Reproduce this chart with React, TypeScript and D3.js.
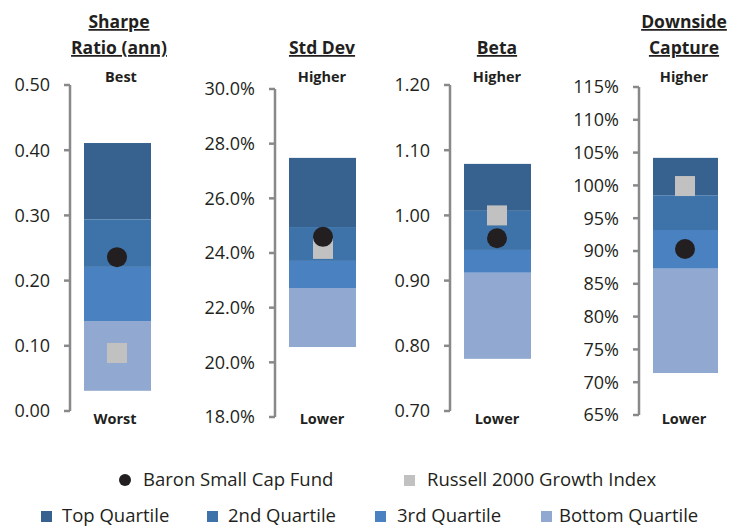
import * as d3 from 'd3';

// quartile breakpoints, top of Top Quartile down to bottom of Bottom Quartile
const panelTitles = [['Sharpe', 'Ratio (ann)'], ['Std Dev'], ['Beta'], ['Downside', 'Capture']];
const topLabels = ['Best', 'Higher', 'Higher', 'Higher'];
const bottomLabels = ['Worst', 'Lower', 'Lower', 'Lower'];
const sharpeBounds = [0.411, 0.294, 0.221, 0.138, 0.031];
const stdDevBounds = [27.48, 24.95, 23.71, 22.72, 20.56];
const betaBounds = [1.079, 1.007, 0.947, 0.912, 0.78];
const downsideBounds = [104.2, 98.5, 93.2, 87.3, 71.4];
const fundValues = [0.236, 24.59, 0.965, 90.3];
const indexValues = [0.089, 24.15, 1.0, 99.9];
const axisDomains: [number, number][] = [[0, 0.5], [18, 30], [0.7, 1.2], [65, 115]];
const tickSteps = [0.1, 2, 0.1, 5];
const tickFormats = [(v: number) => v.toFixed(2), (v: number) => v.toFixed(1) + '%', (v: number) => v.toFixed(2), (v: number) => Math.round(v) + '%'];
const quartileNames = ['Top Quartile', '2nd Quartile', '3rd Quartile', 'Bottom Quartile'];
const seriesNames = ['Baron Small Cap Fund', 'Russell 2000 Growth Index'];

const quartileColors = ['#37628f', '#3e73a9', '#4a81c1', '#91a9d0'];
const FUND = '#231f20';
const INDEX = '#c1c1c1';
const AXIS = '#88898b';
const TEXT = '#231f20';
const FONT = '"Open Sans", sans-serif';

const bounds = [sharpeBounds, stdDevBounds, betaBounds, downsideBounds];

// layout per panel: axis x, pixel range, bar left/right
const layout = [
  { ax: 70, y0: 411, y1: 85, bx0: 84, bx1: 151, cx: 119, mark: 117 },
  { ax: 275, y0: 417, y1: 89, bx0: 289, bx1: 356, cx: 322, mark: 323 },
  { ax: 450, y0: 411, y1: 85, bx0: 464, bx1: 531, cx: 497, mark: 497 },
  { ax: 639, y0: 415, y1: 87, bx0: 653, bx1: 718, cx: 684, mark: 685 },
];

function Panel({ i }: { i: number }) {
  const L = layout[i];
  const [lo, hi] = axisDomains[i];
  const y = d3.scaleLinear().domain([lo, hi]).range([L.y0, L.y1]);
  const ticks = d3.range(lo, hi + tickSteps[i] / 2, tickSteps[i]);
  const b = bounds[i];
  const title = panelTitles[i];
  return (
    <g>
      {title.map((t, k) => (
        <text key={t} x={L.cx} y={title.length === 2 ? 28 + k * 26 : 54} textAnchor="middle"
          fontSize={17.5} fontWeight={700} fill={TEXT} textDecoration="underline">{t}</text>
      ))}
      <text x={L.cx + (i === 0 ? 2 : 0)} y={82} textAnchor="middle" fontSize={14.5} fontWeight={700} fill={TEXT}>{topLabels[i]}</text>
      <text x={L.cx - (i === 0 ? 4 : 0)} y={424} textAnchor="middle" fontSize={14.5} fontWeight={700} fill={TEXT}>{bottomLabels[i]}</text>
      <line x1={L.ax} x2={L.ax} y1={y(lo)} y2={y(hi)} stroke={AXIS} strokeWidth={2.5} />
      {ticks.map(t => (
        <g key={t}>
          <line x1={L.ax - 6} x2={L.ax} y1={y(t)} y2={y(t)} stroke={AXIS} strokeWidth={2.5} />
          <text x={L.ax - 20} y={y(t)} dy="0.35em" textAnchor="end" fontSize={18} fill={TEXT}>{tickFormats[i](t)}</text>
        </g>
      ))}
      {quartileColors.map((c, q) => (
        <rect key={q} x={L.bx0} width={L.bx1 - L.bx0} y={y(b[q])} height={y(b[q + 1]) - y(b[q])} fill={c} />
      ))}
      <rect x={L.mark - 10} y={y(indexValues[i]) - 10} width={20} height={20} fill={INDEX} />
      <circle cx={L.mark} cy={y(fundValues[i])} r={10} fill={FUND} />
    </g>
  );
}

export default function App() {
  const W = 733, H = 527;
  const legendQ = [41, 207, 375, 541];
  const legendQText = [62, 228, 397, 559];
  return (
    <svg width={W} height={H} style={{ position: 'absolute', left: 0, top: 0, background: '#fff' }} fontFamily={FONT}>
      {[0, 1, 2, 3].map(i => <Panel key={i} i={i} />)}
      <circle cx={125} cy={480} r={6} fill={FUND} />
      <text x={143} y={480} dy="0.35em" fontSize={18.5} fill={TEXT}>{seriesNames[0]}</text>
      <rect x={404} y={475} width={11} height={11} fill={INDEX} />
      <text x={427} y={480} dy="0.35em" fontSize={18.5} fill={TEXT}>{seriesNames[1]}</text>
      {quartileNames.map((n, q) => (
        <g key={n}>
          <rect x={legendQ[q]} y={511} width={11} height={11} fill={quartileColors[q]} />
          <text x={legendQText[q]} y={516} dy="0.35em" fontSize={18.5} fill={TEXT}>{n}</text>
        </g>
      ))}
    </svg>
  );
}
